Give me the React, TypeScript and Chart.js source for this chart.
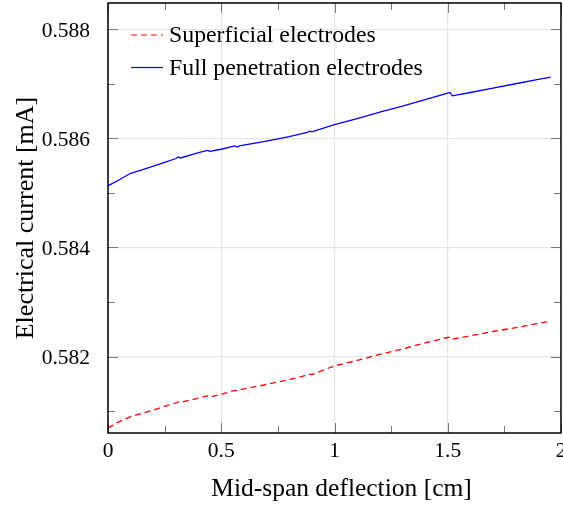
import React, { useEffect, useRef } from "react";
import { Chart, registerables } from "chart.js";

Chart.register(...registerables);

const deflection = [0, 0.05, 0.1, 0.15, 0.2, 0.25, 0.3, 0.31, 0.32, 0.4, 0.44, 0.45, 0.5, 0.56, 0.57, 0.58, 0.7, 0.8, 0.88, 0.89, 0.9, 1.0, 1.1, 1.2, 1.3, 1.4, 1.5, 1.51, 1.52, 1.6, 1.7, 1.8, 1.9, 1.955];
const superficial = [0.58069, 0.58081, 0.5809, 0.58096, 0.58102, 0.58109, 0.58115, 0.58117, 0.58116, 0.58124, 0.58128, 0.58126, 0.58131, 0.58138, 0.58137, 0.58139, 0.58149, 0.58158, 0.58166, 0.58168, 0.58167, 0.58183, 0.58193, 0.58204, 0.58214, 0.58225, 0.58235, 0.58236, 0.58232, 0.58238, 0.58246, 0.58253, 0.58261, 0.58265];
const fullPenetration = [0.58513, 0.58524, 0.58536, 0.58542, 0.58549, 0.58556, 0.58563, 0.58566, 0.58564, 0.58574, 0.58578, 0.58576, 0.5858, 0.58586, 0.58584, 0.58586, 0.58595, 0.58603, 0.58611, 0.58613, 0.58612, 0.58625, 0.58636, 0.58648, 0.58659, 0.58671, 0.58683, 0.58684, 0.58678, 0.58684, 0.58692, 0.587, 0.58708, 0.58712];

const seriesNames = ["Superficial electrodes", "Full penetration electrodes"];
const xMajorTicks = [0, 0.5, 1, 1.5, 2];
const xMajorLabels = ["0", "0.5", "1", "1.5", "2"];
const xMinorTicks = [0.25, 0.75, 1.25, 1.75];
const yMajorTicks = [0.582, 0.584, 0.586, 0.588];
const yMajorLabels = ["0.582", "0.584", "0.586", "0.588"];
const yMinorTicks = [0.581, 0.583, 0.585, 0.587];
const xTitle = "Mid-span deflection [cm]";
const yTitle = "Electrical current [mA]";

const FONT = "'Liberation Serif', 'Times New Roman', serif";

const decorPlugin = {
  id: "decor",
  afterDatasetsDraw(chart: any) {
    const ctx = chart.ctx as CanvasRenderingContext2D;
    const { left, right, top, bottom } = chart.chartArea;
    const xs = chart.scales.x;
    const ys = chart.scales.y;
    ctx.save();
    // inner tick marks
    ctx.strokeStyle = "#777";
    ctx.lineWidth = 1;
    const drawX = (v: number, len: number) => {
      const px = Math.round(xs.getPixelForValue(v)) + 0.5;
      ctx.beginPath();
      ctx.moveTo(px, bottom);
      ctx.lineTo(px, bottom - len);
      ctx.moveTo(px, top);
      ctx.lineTo(px, top + len);
      ctx.stroke();
    };
    const drawY = (v: number, len: number) => {
      const py = Math.round(ys.getPixelForValue(v)) + 0.5;
      ctx.beginPath();
      ctx.moveTo(left, py);
      ctx.lineTo(left + len, py);
      ctx.moveTo(right, py);
      ctx.lineTo(right - len, py);
      ctx.stroke();
    };
    xMajorTicks.forEach((v) => drawX(v, 10));
    xMinorTicks.forEach((v) => drawX(v, 7));
    yMajorTicks.forEach((v) => drawY(v, 10));
    yMinorTicks.forEach((v) => drawY(v, 7));
    // box
    ctx.strokeStyle = "#000";
    ctx.lineWidth = 1.5;
    ctx.strokeRect(left, top, right - left, bottom - top);
    // tick labels
    ctx.fillStyle = "#000";
    ctx.font = `21.5px ${FONT}`;
    ctx.textAlign = "center";
    ctx.textBaseline = "middle";
    xMajorTicks.forEach((v, i) => {
      ctx.fillText(xMajorLabels[i], xs.getPixelForValue(v), bottom + 18);
    });
    ctx.textAlign = "right";
    yMajorTicks.forEach((v, i) => {
      ctx.fillText(yMajorLabels[i], left - 18, ys.getPixelForValue(v) + 2);
    });
    // axis titles
    ctx.font = `25.5px ${FONT}`;
    ctx.textAlign = "center";
    ctx.fillText(xTitle, (left + right) / 2 + 7, bottom + 56);
    ctx.save();
    ctx.translate(26, (top + bottom) / 2);
    ctx.rotate(-Math.PI / 2);
    ctx.font = `26px ${FONT}`;
    ctx.fillText(yTitle, 0, 0);
    ctx.restore();
    // legend
    const datasets = chart.data.datasets;
    ctx.font = `23.8px ${FONT}`;
    ctx.textAlign = "left";
    datasets.forEach((ds: any, i: number) => {
      const y = top + 32 + i * 32.5;
      ctx.strokeStyle = ds.borderColor;
      ctx.lineWidth = 1.2;
      ctx.setLineDash(ds.borderDash || []);
      ctx.beginPath();
      ctx.moveTo(left + 23, y);
      ctx.lineTo(left + 55, y);
      ctx.stroke();
      ctx.setLineDash([]);
      ctx.fillStyle = "#000";
      ctx.fillText(ds.label, left + 61, y + 1);
    });
    ctx.restore();
  },
};

export default function App() {
  const ref = useRef<HTMLCanvasElement>(null);
  useEffect(() => {
    document.body.style.margin = "0";
    const canvas = ref.current!;
    const chart = new Chart(canvas, {
      type: "line",
      data: {
        datasets: [
          {
            label: seriesNames[0],
            data: deflection.map((x, i) => ({ x, y: superficial[i] })),
            borderColor: "#ff0000",
            borderWidth: 1.3,
            borderDash: [6, 4],
            pointRadius: 0,
            tension: 0,
            fill: false,
          },
          {
            label: seriesNames[1],
            data: deflection.map((x, i) => ({ x, y: fullPenetration[i] })),
            borderColor: "#0000ff",
            borderWidth: 1.3,
            pointRadius: 0,
            tension: 0,
            fill: false,
          },
        ],
      },
      options: {
        responsive: false,
        animation: false,
        layout: { padding: { left: 108, top: 3, right: 2, bottom: 73 } },
        plugins: { legend: { display: false }, tooltip: { enabled: false } },
        scales: {
          x: {
            type: "linear",
            min: 0,
            max: 2,
            afterBuildTicks: (s: any) => {
              s.ticks = xMajorTicks.map((v) => ({ value: v }));
            },
            afterFit: (s: any) => {
              s.height = 0;
            },
            ticks: { display: false },
            grid: { color: "#e6e6e6", lineWidth: 1.2, drawTicks: false },
            border: { display: false },
          },
          y: {
            type: "linear",
            min: 0.5806,
            max: 0.58848,
            afterBuildTicks: (s: any) => {
              s.ticks = yMajorTicks.map((v) => ({ value: v }));
            },
            afterFit: (s: any) => {
              s.width = 0;
            },
            ticks: { display: false },
            grid: { color: "#e6e6e6", lineWidth: 1.2, drawTicks: false },
            border: { display: false },
          },
        },
      },
      plugins: [decorPlugin],
    } as any);
    return () => chart.destroy();
  }, []);
  return (
    <div style={{ width: 563, height: 506 }}>
      <canvas ref={ref} width={563} height={506} />
    </div>
  );
}
